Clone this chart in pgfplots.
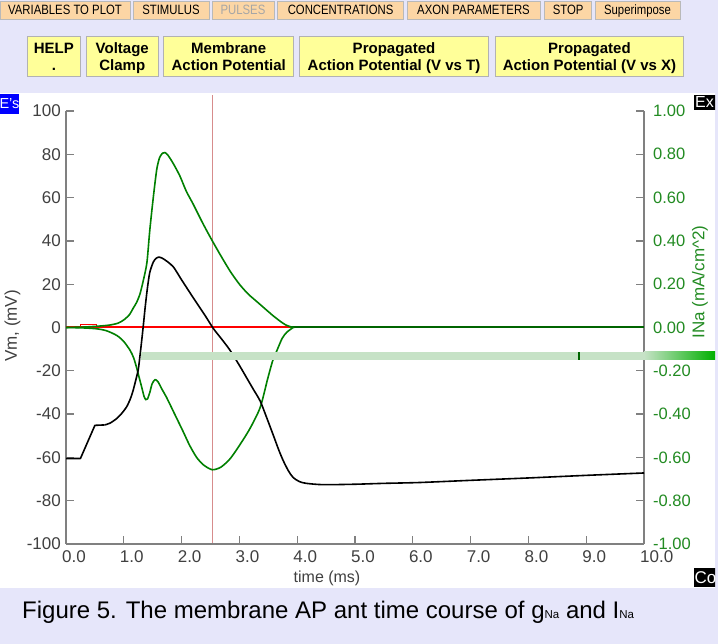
\documentclass[border=0pt]{standalone}
\usepackage{fontspec}
\setmainfont{Liberation Sans}
\newfontfamily\condfont{Liberation Sans}[FakeStretch=0.84]
\usepackage{pgfplots}
\pgfplotsset{compat=1.18}
\definecolor{lav}{RGB}{230,230,250}
\definecolor{btnorange}{RGB}{252,214,165}
\definecolor{btnyellow}{RGB}{255,255,153}
\definecolor{gcurve}{RGB}{0,128,0}
\definecolor{gdark}{RGB}{0,100,0}
\definecolor{glabel}{RGB}{34,139,34}
\definecolor{axgray}{RGB}{128,128,128}
\definecolor{ticktext}{RGB}{64,64,64}
\definecolor{cursorc}{RGB}{215,140,140}
\definecolor{barg}{RGB}{198,226,198}
\definecolor{barstrong}{RGB}{0,176,0}
\pgfplotsset{
  base/.style={at={(66pt,100pt)}, anchor=south west, scale only axis,
    width=578pt, height=433pt, xmin=0, xmax=10,
    axis line style={axgray, line width=1.6pt},
    tick style={axgray, line width=1.3pt}, major tick length=8pt, tick align=inside,
    /pgf/number format/assume math mode=true,
    tick label style={font=\fontsize{17pt}{20pt}\selectfont, text=ticktext}},
}
\begin{document}
\begin{tikzpicture}
\path[use as bounding box] (0pt,0pt) rectangle (718pt,644pt);
\fill[lav] (0pt,0pt) rectangle (718pt,644pt);
\fill[white] (0pt,56pt) rectangle (715pt,551pt);
% row 1 buttons
\foreach \a/\b/\t in {0/130/VARIABLES TO PLOT,133/209/STIMULUS,277.5/403.7/CONCENTRATIONS,407/540/AXON PARAMETERS,544.5/591.7/STOP,595/680/Superimpose}{
  \filldraw[fill=btnorange, draw=gray!55, line width=0.8pt] (\a pt,625pt) rectangle (\b pt,642.3pt);
  \node[anchor=base, inner sep=0pt, font=\condfont\fontsize{13.5pt}{16pt}\selectfont] at ({(\a+\b)/2*1pt},629pt) {\t};
}
\filldraw[fill=btnorange, draw=gray!55, line width=0.8pt] (212pt,625pt) rectangle (274pt,642.3pt);
\node[anchor=base, inner sep=0pt, text=gray!70, font=\condfont\fontsize{13.5pt}{16pt}\selectfont] at (243pt,629pt) {PULSES};
% row 2 buttons
\foreach \a/\b/\s/\t in {27.5/80.3/HELP/.,86.2/158.3/Voltage/Clamp,163.8/293.6/Membrane/Action Potential,299.5/488.5/Propagated/Action Potential (V vs T),495.4/683.5/Propagated/Action Potential (V vs X)}{
  \filldraw[fill=btnyellow, draw=gray!60, line width=0.8pt] (\a pt,568pt) rectangle (\b pt,607.3pt);
  \node[anchor=base, inner sep=0pt, font=\bfseries\fontsize{15pt}{18pt}\selectfont] at ({(\a+\b)/2*1pt},590.5pt) {\s};
  \node[anchor=base, inner sep=0pt, font=\bfseries\fontsize{15pt}{18pt}\selectfont] at ({(\a+\b)/2*1pt},573pt) {\t};
}
% corner tags
\fill[blue] (0pt,530pt) rectangle (19pt,550pt);
\node[text=white, inner sep=0pt, font=\fontsize{14.5pt}{16pt}\selectfont] at (9.5pt,540pt) {E's};
\begin{scope}
\clip (0pt,0pt) rectangle (715pt,644pt);
\fill[black] (694pt,534pt) rectangle (716pt,549pt);
\node[text=white, anchor=west, inner sep=0pt, font=\fontsize{16pt}{18pt}\selectfont] at (695pt,542pt) {Ex};
\fill[black] (694pt,57pt) rectangle (716pt,76pt);
\node[text=white, anchor=west, inner sep=0pt, font=\fontsize{17pt}{18pt}\selectfont] at (694.5pt,66.5pt) {Co};
\end{scope}
% cursor
\draw[cursorc, line width=1.3pt] (212.7pt,100pt) -- (212.7pt,549pt);
% left axis with red
\begin{axis}[base, ymin=-100, ymax=100, axis x line*=bottom, axis y line*=left,
  xtick={0,1,...,10}, ytick={-100,-80,...,100},
  yticklabel style={anchor=east, inner sep=0pt, xshift=-5pt},
  xticklabel style={anchor=north west, inner sep=0pt, xshift=-4pt, yshift=-6.5pt, /pgf/number format/.cd, fixed, fixed zerofill, precision=1}]
\addplot[color=red, line width=2pt] coordinates {(0,0) (2,0) (3.93,0)};
\addplot[color=red, line width=1.1pt] coordinates {(0.25,0) (0.25,1.4) (0.52,1.4) (0.52,0)};
\end{axis}
% right axis with green
\begin{axis}[base, ymin=-1, ymax=1, axis x line*=bottom, xtick=\empty, axis y line*=right,
  ytick={-1,-0.8,-0.6,-0.4,-0.2,0,0.2,0.4,0.6,0.8,1},
  yticklabel style={anchor=west, inner sep=0pt, xshift=9pt, text=glabel, font=\fontsize{16.5pt}{20pt}\selectfont, /pgf/number format/.cd, fixed, fixed zerofill, precision=2}]
\addplot[color=gdark, line width=2pt] coordinates {(3.9,0) (7,0) (10,0)};
\addplot[color=gcurve, line width=1.6pt, smooth, tension=0.45] coordinates {
(0,0) (0.3,0.002) (0.55,0.006) (0.75,0.011) (0.9,0.02) (1.0,0.035) (1.1,0.06) (1.16,0.088) (1.22,0.115) (1.28,0.155) (1.34,0.22) (1.40,0.30) (1.45,0.45) (1.51,0.60) (1.57,0.73) (1.62,0.785) (1.67,0.805) (1.71,0.808) (1.76,0.797) (1.85,0.76) (1.97,0.70) (2.08,0.63) (2.20,0.57) (2.35,0.49) (2.49,0.42) (2.66,0.34) (2.84,0.26) (3.0,0.20) (3.15,0.155) (3.30,0.12) (3.45,0.085) (3.58,0.055) (3.70,0.03) (3.80,0.012) (3.90,0.002) (3.95,0)};
\addplot[color=gcurve, line width=1.6pt, smooth, tension=0.45] coordinates {
(0,0) (0.3,-0.002) (0.53,-0.006) (0.7,-0.015) (0.88,-0.037) (1.0,-0.065) (1.11,-0.106) (1.17,-0.14) (1.22,-0.184) (1.27,-0.235) (1.31,-0.276) (1.35,-0.318) (1.38,-0.333) (1.41,-0.33) (1.45,-0.30) (1.49,-0.26) (1.54,-0.241) (1.59,-0.25) (1.66,-0.285) (1.74,-0.323) (1.88,-0.40) (2.02,-0.477) (2.14,-0.545) (2.26,-0.600) (2.38,-0.635) (2.53,-0.657) (2.68,-0.645) (2.84,-0.606) (3.0,-0.545) (3.18,-0.468) (3.36,-0.369) (3.49,-0.236) (3.58,-0.15) (3.65,-0.106) (3.74,-0.05) (3.82,-0.022) (3.93,0)};
\end{axis}
% black Vm on left scale
\begin{axis}[base, ymin=-100, ymax=100, axis lines=none, xtick=\empty, ytick=\empty]
\addplot[color=black, line width=1.6pt, line join=round] coordinates {(0,-60.5) (0.25,-60.5) (0.50,-45.2) (0.67,-45)};
\addplot[color=black, line width=1.6pt, smooth, tension=0.45] coordinates {
(0.67,-45) (0.76,-44.2) (0.88,-42) (0.97,-39.5) (1.05,-36.6) (1.11,-33.2) (1.16,-29.2) (1.21,-24) (1.25,-19.5) (1.28,-13) (1.31,-6) (1.34,1.5) (1.37,9.4) (1.41,18.5) (1.45,25.5) (1.51,30.2) (1.56,32) (1.60,32.5) (1.66,32.1) (1.75,30.5) (1.86,27.9) (2.0,22) (2.2,13.8) (2.4,5.8) (2.55,-0.5) (2.7,-5.6) (2.84,-10.6) (3.0,-17.5) (3.12,-23) (3.24,-28.5) (3.36,-34) (3.47,-41.5) (3.59,-50) (3.68,-56.5) (3.76,-61.6) (3.85,-66.3) (3.93,-69.3) (4.04,-71.2) (4.16,-72) (4.45,-72.6) (5.0,-72.4) (5.49,-72) (6.12,-71.6) (7.0,-70.6) (8.0,-69.5) (9.0,-68.3) (10.0,-67.2)};
\end{axis}
% light green bar
\fill[barg] (141pt,284pt) rectangle (644pt,292.3pt);
\shade[left color=barg, right color=barstrong] (644pt,284pt) rectangle (715pt,292.3pt);
\fill[gdark] (578pt,284pt) rectangle (580pt,292.3pt);
% axis labels
\node[rotate=90, inner sep=0pt, text=ticktext, font=\fontsize{17pt}{20pt}\selectfont] at (12.5pt,318pt) {Vm, (mV)};
\node[rotate=90, inner sep=0pt, text=glabel, font=\fontsize{17pt}{20pt}\selectfont] at (700pt,362pt) {INa (mA/cm\^{}2)};
\node[inner sep=0pt, text=ticktext, font=\fontsize{16pt}{20pt}\selectfont] at (327pt,66pt) {time (ms)};
% caption
\node[anchor=base west, inner sep=0pt, font=\fontsize{24pt}{26pt}\selectfont] at (22pt,25pt) {Figure 5. The membrane AP ant time course of g{\fontsize{11.5pt}{12pt}\selectfont Na} and I{\fontsize{11.5pt}{12pt}\selectfont Na}};
\end{tikzpicture}
\end{document}
